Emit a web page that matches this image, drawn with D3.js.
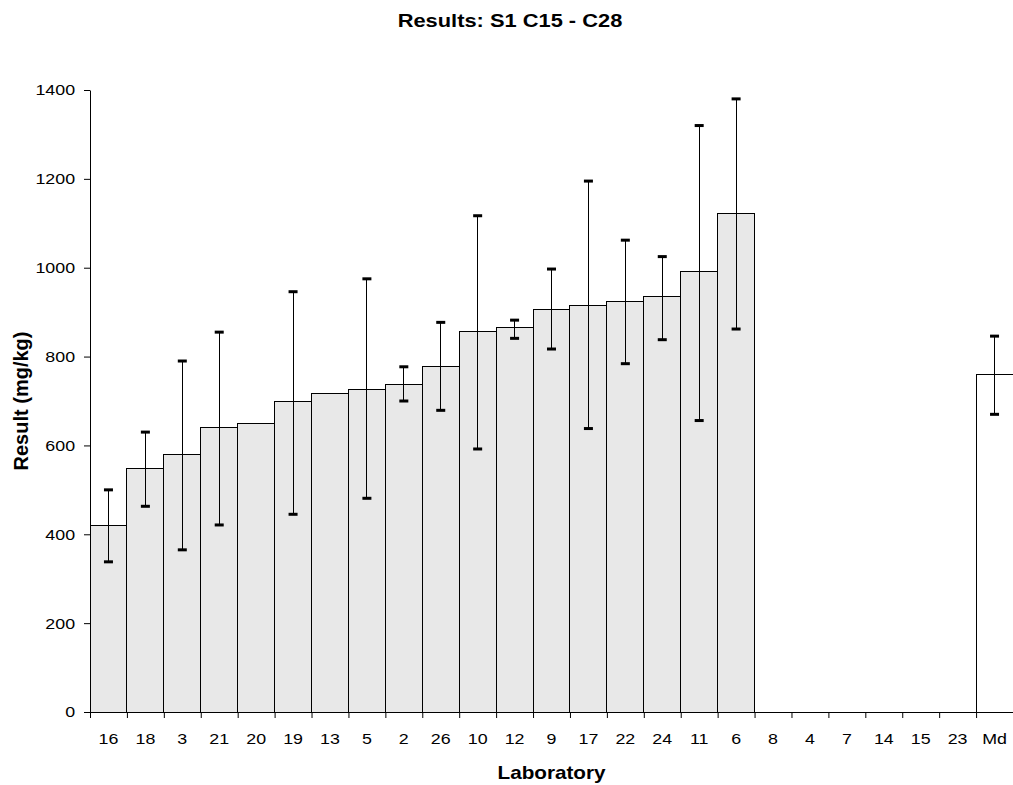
<!DOCTYPE html>
<html>
<head>
<meta charset="utf-8">
<script src="https://cdn.jsdelivr.net/npm/d3@7"></script>
<style>
  body { margin: 0; background: #fff; }
  text { font-family: "Liberation Sans", Arial, sans-serif; }
</style>
</head>
<body>
<div id="chart"></div>
<script>
// laboratories in plotted order
const labs = ["16", "18", "3", "21", "20", "19", "13", "5", "2", "26", "10", "12", "9",
  "17", "22", "24", "11", "6", "8", "4", "7", "14", "15", "23", "Md"];
// reported results (mg/kg), null = no result
const results = [420, 548, 580, 640, 650, 700, 718, 727, 738, 778, 857, 866, 907,
  916, 925, 935, 991, 1123, null, null, null, null, null, null, 760];
// upper / lower uncertainty limits
const upper = [500, 630, 790, 855, null, 946, null, 975, 777, 877, 1117, 882, 997,
  1195, 1062, 1025, 1320, 1380, null, null, null, null, null, null, 846];
const lower = [338, 463, 365, 421, null, 445, null, 481, 700, 679, 592, 841, 817,
  638, 784, 838, 656, 862, null, null, null, null, null, null, 670];
const yTicks = [0, 200, 400, 600, 800, 1000, 1200, 1400];

const data = labs.map((lab, i) => ({ lab, value: results[i], hi: upper[i], lo: lower[i] }));

const W = 1013, H = 785;
const margin = { top: 90, right: 0, bottom: 73, left: 90 };
const width = W - margin.left - margin.right,
    height = H - margin.top - margin.bottom;
const stretch = "scale(1.15,1)"; // the original chart is a bit wider than tall

const svg = d3.select("#chart").append("svg")
    .attr("width", W)
    .attr("height", H);

const g = svg.append("g")
    .attr("transform", `translate(${margin.left},${margin.top})`);

const x = d3.scaleBand()
    .domain(labs)
    .range([0, width])
    .padding(0);

const y = d3.scaleLinear()
    .domain([0, 1400])
    .range([height, 0]);

// bars
g.selectAll("rect.bar")
    .data(data.filter(d => d.value != null))
    .join("rect")
    .attr("class", "bar")
    .attr("x", d => x(d.lab))
    .attr("y", d => y(d.value))
    .attr("width", x.bandwidth())
    .attr("height", d => height - y(d.value))
    .attr("fill", d => d.lab === "Md" ? "#ffffff" : "#e8e8e8")
    .attr("stroke", "#000")
    .attr("stroke-width", 1)
    .attr("shape-rendering", "crispEdges");

// error bars
const err = data.filter(d => d.hi != null);
g.selectAll("line.err")
    .data(err)
    .join("line")
    .attr("class", "err")
    .attr("x1", d => x(d.lab) + x.bandwidth() / 2)
    .attr("x2", d => x(d.lab) + x.bandwidth() / 2)
    .attr("y1", d => y(d.lo))
    .attr("y2", d => y(d.hi))
    .attr("stroke", "#000")
    .attr("stroke-width", 1)
    .attr("shape-rendering", "crispEdges");

const caps = err.flatMap(d => [{ lab: d.lab, v: d.hi }, { lab: d.lab, v: d.lo }]);
g.selectAll("rect.cap")
    .data(caps)
    .join("rect")
    .attr("class", "cap")
    .attr("x", d => x(d.lab) + x.bandwidth() / 2 - 4.5)
    .attr("y", d => y(d.v) - 1.5)
    .attr("width", 9)
    .attr("height", 3)
    .attr("fill", "#000");

// y axis
const yAxis = g.append("g")
    .call(d3.axisLeft(y).tickValues(yTicks).tickFormat(d3.format("d"))
        .tickSize(6).tickPadding(7).tickSizeOuter(0));
yAxis.selectAll("text")
    .style("font-size", "15.5px")
    .attr("fill", "#000")
    .attr("transform", stretch);
yAxis.selectAll("line, path").attr("stroke", "#000");

// x axis with ticks on band boundaries
const xAxis = g.append("g")
    .attr("transform", `translate(0,${height})`)
    .call(d3.axisBottom(x).tickSize(0).tickPadding(21));
xAxis.selectAll("text")
    .style("font-size", "15.5px")
    .attr("fill", "#000")
    .attr("transform", stretch);
xAxis.select("path").attr("stroke", "#000");

g.append("g")
    .selectAll("line")
    .data(labs)
    .join("line")
    .attr("x1", d => x(d) + 0.5)
    .attr("x2", d => x(d) + 0.5)
    .attr("y1", height)
    .attr("y2", height + 6)
    .attr("stroke", "#000");

// titles
svg.append("text")
    .attr("transform", `translate(510,27) ${stretch}`)
    .attr("text-anchor", "middle")
    .style("font-size", "19px")
    .style("font-weight", "bold")
    .text("Results: S1 C15 - C28");

svg.append("text")
    .attr("transform", `translate(${margin.left + width / 2},779) ${stretch}`)
    .attr("text-anchor", "middle")
    .style("font-size", "18px")
    .style("font-weight", "bold")
    .text("Laboratory");

svg.append("text")
    .attr("transform", `translate(28,${margin.top + height / 2}) rotate(-90)`)
    .attr("text-anchor", "middle")
    .style("font-size", "20px")
    .style("font-weight", "bold")
    .text("Result (mg/kg)");
</script>
</body>
</html>
